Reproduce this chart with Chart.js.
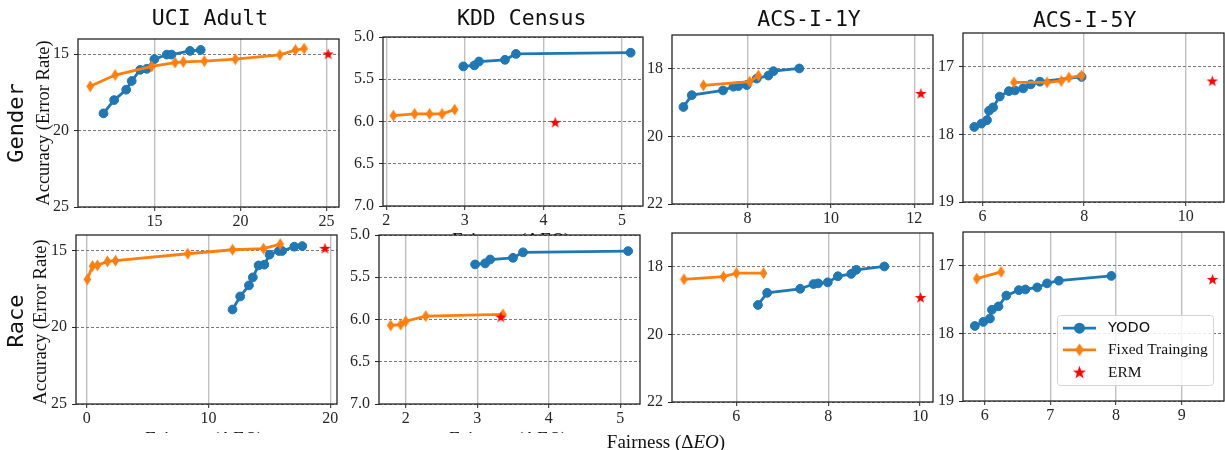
<!DOCTYPE html>
<html>
<head>
<meta charset="utf-8">
<script src="https://cdn.jsdelivr.net/npm/chart.js@4.4.1/dist/chart.umd.min.js"></script>
<style>
  html, body { margin: 0; padding: 0; background: #fff; }
  #fig { position: relative; width: 1225px; height: 450px; overflow: hidden; background: #fff; }
  #fig canvas { position: absolute; }
  .t { position: absolute; white-space: nowrap; line-height: 1; color: #111; transform: translate(-50%, -50%); }
  .title { font-family: "DejaVu Sans Mono", monospace; font-size: 21.5px; }
  .row { font-family: "DejaVu Sans Mono", monospace; font-size: 22px; transform: translate(-50%, -50%) rotate(-90deg); }
  .ytitle { font-family: "Liberation Serif", serif; font-size: 18.5px; transform: translate(-50%, -50%) rotate(-90deg); }
  .xtitle { font-family: "Liberation Serif", serif; font-size: 19px; }
  .clip { position: absolute; overflow: hidden; }
  .clip span { position: absolute; left: 0; white-space: nowrap; line-height: 1; font-family: "Liberation Serif", serif; font-size: 19px; color: #111; }
  i { font-style: italic; }
</style>
</head>
<body>
<div id="fig"></div>
<script>
// ---- labels ----
const columnTitles = ['UCI Adult', 'KDD Census', 'ACS-I-1Y', 'ACS-I-5Y'];
const rowTitles = ['Gender', 'Race'];
const yAxisTitle = 'Accuracy (Error Rate)';
const xAxisTitle = 'Fairness (\u0394<i>EO</i>)';
const legendLabels = ['YODO', 'Fixed Trainging', 'ERM'];

// ---- tick labels ----
const adultXTicksGender = ['15', '20', '25'];
const adultXTicksRace = ['0', '10', '20'];
const adultYTicks = ['15', '20', '25'];
const kddXTicks = ['2', '3', '4', '5'];
const kddYTicks = ['5.0', '5.5', '6.0', '6.5', '7.0'];
const acs1XTicksGender = ['8', '10', '12'];
const acs1XTicksRace = ['6', '8', '10'];
const acs1YTicks = ['18', '20', '22'];
const acs5XTicksGender = ['6', '8', '10'];
const acs5XTicksRace = ['6', '7', '8', '9'];
const acs5YTicks = ['17', '18', '19'];

// ---- series: [fairness ΔEO, error rate] ----
const adultGenderYodo = [[12.04, 18.87], [12.66, 18.0], [13.36, 17.32], [13.68, 16.75], [14.17, 16.02], [14.56, 15.95], [15.0, 15.32], [15.72, 15.02], [16.0, 15.02], [17.07, 14.78], [17.69, 14.72]];
const adultGenderFixed = [[11.27, 17.1], [12.72, 16.36], [14.85, 15.8], [16.2, 15.54], [16.68, 15.5], [17.9, 15.45], [19.7, 15.32], [22.29, 15.04], [23.2, 14.72], [23.7, 14.63]];
const adultGenderErm = [[25.1, 14.98]];

const kddGenderYodo = [[2.98, 5.348], [3.12, 5.336], [3.18, 5.29], [3.51, 5.27], [3.65, 5.2], [5.11, 5.186]];
const kddGenderFixed = [[2.09, 5.93], [2.36, 5.91], [2.55, 5.91], [2.71, 5.91], [2.87, 5.86]];
const kddGenderErm = [[4.15, 6.01]];

const acs1GenderYodo = [[6.46, 19.13], [6.66, 18.78], [7.41, 18.64], [7.66, 18.53], [7.78, 18.51], [7.98, 18.48], [8.22, 18.29], [8.5, 18.2], [8.62, 18.07], [9.24, 17.99]];
const acs1GenderFixed = [[6.94, 18.49], [8.05, 18.38], [8.26, 18.2]];
const acs1GenderErm = [[12.16, 18.73]];

const acs5GenderYodo = [[5.84, 17.89], [5.98, 17.84], [6.09, 17.79], [6.13, 17.65], [6.21, 17.6], [6.34, 17.44], [6.52, 17.36], [6.64, 17.35], [6.8, 17.32], [6.95, 17.26], [7.13, 17.22], [7.95, 17.15]];
const acs5GenderFixed = [[6.62, 17.23], [7.27, 17.23], [7.55, 17.21], [7.7, 17.16], [7.95, 17.13]];
const acs5GenderErm = [[10.52, 17.21]];

const adultRaceYodo = [[11.97, 18.85], [12.6, 18.0], [13.32, 17.28], [13.64, 16.76], [14.11, 15.98], [14.58, 15.93], [15.01, 15.28], [15.78, 15.04], [16.05, 15.04], [17.04, 14.76], [17.7, 14.72]];
const adultRaceFixed = [[0.05, 16.89], [0.47, 16.02], [0.88, 15.98], [1.7, 15.72], [2.36, 15.67], [8.3, 15.22], [11.97, 14.96], [14.52, 14.89], [15.89, 14.59]];
const adultRaceErm = [[19.56, 14.87]];

const kddRaceYodo = [[2.97, 5.348], [3.11, 5.336], [3.18, 5.29], [3.5, 5.27], [3.64, 5.205], [5.11, 5.19]];
const kddRaceFixed = [[1.79, 6.07], [1.93, 6.06], [2.0, 6.02], [2.28, 5.96], [3.36, 5.94]];
const kddRaceErm = [[3.33, 5.97]];

const acs1RaceYodo = [[6.47, 19.13], [6.67, 18.77], [7.39, 18.65], [7.68, 18.51], [7.78, 18.49], [7.99, 18.46], [8.21, 18.28], [8.5, 18.21], [8.61, 18.09], [9.22, 17.99]];
const acs1RaceFixed = [[4.86, 18.37], [5.72, 18.29], [6.0, 18.19], [6.59, 18.19]];
const acs1RaceErm = [[10.01, 18.91]];

const acs5RaceYodo = [[5.85, 17.89], [5.98, 17.83], [6.08, 17.78], [6.11, 17.65], [6.21, 17.6], [6.33, 17.44], [6.52, 17.36], [6.62, 17.35], [6.8, 17.32], [6.95, 17.26], [7.13, 17.22], [7.93, 17.15]];
const acs5RaceFixed = [[5.88, 17.19], [6.25, 17.09]];
const acs5RaceErm = [[9.47, 17.2]];

// ---- styling & layout ----
const BLUE = '#1f77b4', ORANGE = '#ff7f0e', RED = '#ff0000';
const INK = '#262626';
const L = 60, T = 16, R = 22, B = 34;   // canvas margins around each plot area

// plot-area boxes [left, top, right, bottom] and axis ranges per subplot
const panels = [
  { box: [78, 39, 339, 207],   x: [10.56, 25.73], y: [14.0, 25], xt: adultXTicksGender, yt: adultYTicks, s: [adultGenderYodo, adultGenderFixed, adultGenderErm] },
  { box: [383, 37, 643, 206],  x: [1.958, 5.267], y: [5.0, 7.0], xt: kddXTicks,         yt: kddYTicks,   s: [kddGenderYodo, kddGenderFixed, kddGenderErm] },
  { box: [672, 35, 933, 204],  x: [6.186, 12.45], y: [17.0, 22], xt: acs1XTicksGender,  yt: acs1YTicks,  s: [acs1GenderYodo, acs1GenderFixed, acs1GenderErm] },
  { box: [963, 33, 1224, 202], x: [5.618, 10.75], y: [16.5, 19], xt: acs5XTicksGender,  yt: acs5YTicks,  s: [acs5GenderYodo, acs5GenderFixed, acs5GenderErm] },
  { box: [76, 235, 337, 404],  x: [-0.88, 20.55], y: [14.0, 25], xt: adultXTicksRace,   yt: adultYTicks, s: [adultRaceYodo, adultRaceFixed, adultRaceErm] },
  { box: [379, 235, 640, 404], x: [1.626, 5.276], y: [5.0, 7.0], xt: kddXTicks,         yt: kddYTicks,   s: [kddRaceYodo, kddRaceFixed, kddRaceErm] },
  { box: [672, 233, 933, 402], x: [4.60, 10.28],  y: [17.0, 22], xt: acs1XTicksRace,    yt: acs1YTicks,  s: [acs1RaceYodo, acs1RaceFixed, acs1RaceErm] },
  { box: [963, 232, 1224, 401], x: [5.67, 9.645], y: [16.5, 19], xt: acs5XTicksRace,    yt: acs5YTicks,  s: [acs5RaceYodo, acs5RaceFixed, acs5RaceErm], legend: true }
];

const fig = document.getElementById('fig');

// thin diamond and filled star markers as small bitmaps
function diamondMarker(k) {
  const c = document.createElement('canvas');
  c.width = Math.round(9 * k); c.height = Math.round(13 * k);
  const g = c.getContext('2d');
  g.fillStyle = ORANGE;
  g.beginPath();
  g.moveTo(c.width / 2, 0.5 * k);
  g.lineTo(c.width - 0.7 * k, c.height / 2);
  g.lineTo(c.width / 2, c.height - 0.5 * k);
  g.lineTo(0.7 * k, c.height / 2);
  g.closePath();
  g.fill();
  return c;
}
function starMarker(k) {
  const c = document.createElement('canvas');
  c.width = Math.round(13 * k); c.height = Math.round(13 * k);
  const g = c.getContext('2d');
  const cx = c.width / 2, cy = c.height / 2 + 0.4 * k, ro = 6 * k, ri = ro * 0.4;
  g.fillStyle = RED;
  g.beginPath();
  for (let i = 0; i < 10; i++) {
    const r = i % 2 ? ri : ro;
    const a = -Math.PI / 2 + i * Math.PI / 5;
    const px = cx + r * Math.cos(a), py = cy + r * Math.sin(a);
    i ? g.lineTo(px, py) : g.moveTo(px, py);
  }
  g.closePath();
  g.fill();
  return c;
}
const diamond = diamondMarker(1), star = starMarker(1);
const diamondBig = diamondMarker(1.1), starBig = starMarker(1.15);

const toPoints = arr => arr.map(([x, y]) => ({ x, y }));

const framePlugin = {
  id: 'frame',
  afterDatasetsDraw(chart) {
    const { ctx, chartArea: a } = chart;
    ctx.save();
    ctx.strokeStyle = INK;
    ctx.lineWidth = 1.3;
    ctx.strokeRect(a.left, a.top, a.right - a.left, a.bottom - a.top);
    ctx.restore();
  }
};

const legendPlugin = {
  id: 'cornerLegend',
  afterDraw(chart) {
    const { ctx, chartArea: a } = chart;
    const x0 = a.left + 94.5, y0 = a.top + 83.5, w = 156, h = 70;
    ctx.save();
    ctx.beginPath();
    ctx.roundRect(x0, y0, w, h, 3);
    ctx.fillStyle = 'rgba(255,255,255,0.85)';
    ctx.fill();
    ctx.strokeStyle = '#d4d4d4';
    ctx.lineWidth = 1;
    ctx.stroke();
    const rows = [12.7, 34.3, 56.7];
    const hx1 = x0 + 5.5, hx2 = x0 + 38.5, mx = x0 + 22;
    ctx.textBaseline = 'middle';
    ctx.textAlign = 'left';
    rows.forEach((dy, i) => {
      const y = y0 + dy;
      if (i < 2) {
        ctx.strokeStyle = i === 0 ? BLUE : ORANGE;
        ctx.lineWidth = 2.7;
        ctx.beginPath(); ctx.moveTo(hx1, y); ctx.lineTo(hx2, y); ctx.stroke();
      }
      if (i === 0) {
        ctx.fillStyle = BLUE;
        ctx.beginPath(); ctx.arc(mx, y, 5.5, 0, Math.PI * 2); ctx.fill();
      } else {
        const m = i === 1 ? diamondBig : starBig;
        ctx.drawImage(m, mx - m.width / 2, y - m.height / 2);
      }
      ctx.fillStyle = '#111';
      ctx.font = i === 0 ? '14.5px "DejaVu Sans"' : '15.5px "Liberation Serif"';
      ctx.fillText(legendLabels[i], x0 + 50.5, y + 0.5);
    });
    ctx.restore();
  }
};

function scaleOpts(range, labels, isY) {
  return {
    type: 'linear',
    min: range[0], max: range[1],
    reverse: !!isY,
    afterBuildTicks: s => { s.ticks = labels.map(v => ({ value: Number(v) })); },
    afterFit: s => { if (isY) s.width = L; else s.height = B; },
    ticks: {
      autoSkip: false,
      maxRotation: 0,
      padding: isY ? 5 : 1,
      color: INK,
      font: { family: '"Liberation Serif", serif', size: 16, lineHeight: 1.2 },
      callback: (v, i) => labels[i]
    },
    grid: isY
      ? { color: '#7a7a7a', lineWidth: 1, tickLength: 4, tickColor: INK, tickWidth: 1 }
      : { color: 'rgba(150,150,150,0.6)', lineWidth: 1.4, tickLength: 4, tickColor: INK, tickWidth: 1 },
    border: isY ? { display: false, dash: [3, 2] } : { display: false }
  };
}

panels.forEach(p => {
  const [l, t, r, b] = p.box;
  const cv = document.createElement('canvas');
  const W = (r - l) + L + R, H = (b - t) + T + B;
  cv.width = W; cv.height = H;
  cv.style.left = (l - L) + 'px';
  cv.style.top = (t - T) + 'px';
  cv.style.width = W + 'px';
  cv.style.height = H + 'px';
  fig.appendChild(cv);

  const [yodo, fixed, erm] = p.s;
  new Chart(cv, {
    type: 'scatter',
    data: {
      datasets: [
        { label: legendLabels[2], data: toPoints(erm), showLine: false, pointStyle: star, pointRadius: 6, order: 0 },
        { label: legendLabels[1], data: toPoints(fixed), showLine: true, borderColor: ORANGE, borderWidth: 2.8,
          pointStyle: diamond, pointRadius: 5, order: 1 },
        { label: legendLabels[0], data: toPoints(yodo), showLine: true, borderColor: BLUE, borderWidth: 2.8,
          pointStyle: 'circle', pointRadius: 4.4, pointBorderWidth: 1, pointBackgroundColor: BLUE, pointBorderColor: BLUE, order: 2 }
      ]
    },
    options: {
      responsive: false,
      animation: false,
      devicePixelRatio: 1,
      layout: { padding: { left: 0, top: T, right: R, bottom: 0 } },
      plugins: { legend: { display: false }, tooltip: { enabled: false }, title: { display: false } },
      scales: { x: scaleOpts(p.x, p.xt, false), y: scaleOpts(p.y, p.yt, true) }
    },
    plugins: p.legend ? [framePlugin, legendPlugin] : [framePlugin]
  });
});

// ---- figure text ----
function addText(cls, html, cx, cy) {
  const d = document.createElement('div');
  d.className = 't ' + cls;
  d.innerHTML = html;
  d.style.left = cx + 'px';
  d.style.top = cy + 'px';
  fig.appendChild(d);
}
const titleCenters = [[210, 18], [521.7, 18], [809, 18.5], [1084.7, 20]];
columnTitles.forEach((s, i) => addText('title', s, titleCenters[i][0], titleCenters[i][1]));
addText('row', rowTitles[0], 15.5, 123);
addText('row', rowTitles[1], 15.5, 321);
addText('ytitle', yAxisTitle, 43, 123);
addText('ytitle', yAxisTitle, 40, 321.5);
addText('xtitle', xAxisTitle, 666, 441);

// axis titles of neighbouring subplots, mostly hidden beneath the plots below them
function addClipped(cx, top, height, offset) {
  const d = document.createElement('div');
  d.className = 'clip';
  d.style.left = (cx - 70) + 'px';
  d.style.width = '140px';
  d.style.top = top + 'px';
  d.style.height = height + 'px';
  const s = document.createElement('span');
  s.innerHTML = xAxisTitle;
  s.style.top = offset + 'px';
  d.appendChild(s);
  fig.appendChild(d);
  s.style.left = (70 - s.offsetWidth / 2) + 'px';
}
addClipped(511, 229, 6, 0.5);
addClipped(204, 429, 3.5, -0.5);
addClipped(508, 429, 3.5, -0.5);
</script>
</body>
</html>
